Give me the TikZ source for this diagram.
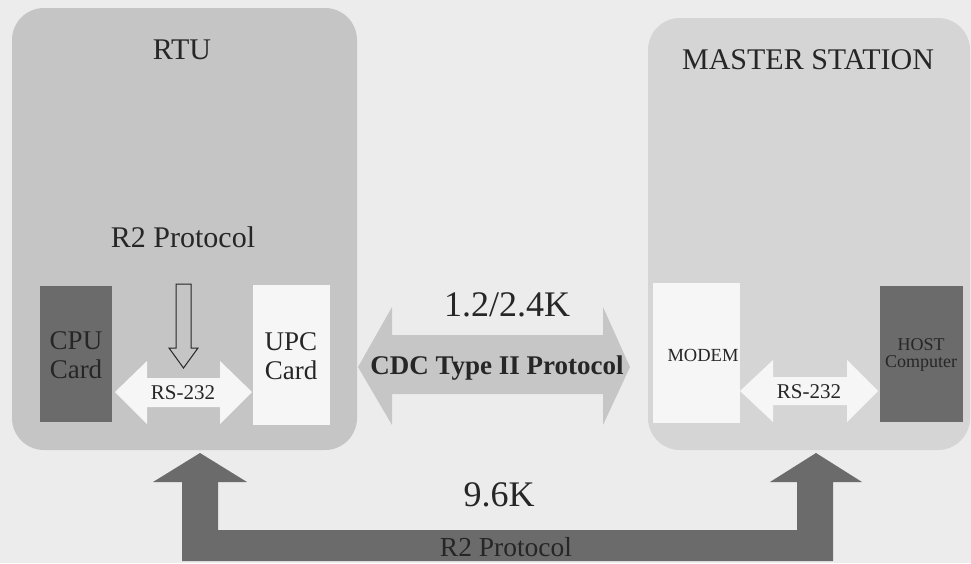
\documentclass[tikz,border=0pt]{standalone}
\usepackage{fontspec}
\setmainfont{Liberation Serif}
\definecolor{bgc}{HTML}{ECECEC}
\definecolor{rtuc}{HTML}{C5C5C5}
\definecolor{msc}{HTML}{D5D5D5}
\definecolor{darkc}{HTML}{6B6B6B}
\definecolor{cardc}{HTML}{F6F6F6}
\definecolor{txtc}{HTML}{262626}
\definecolor{cdcmid}{HTML}{999999}
\definecolor{cdcend}{HTML}{C6C6C6}
\begin{document}
\begin{tikzpicture}[x=1pt,y=-1pt,
  panel/.style={rounded corners=32pt, inner sep=0pt, outer sep=0pt},
  card/.style={inner sep=0pt, outer sep=0pt, align=center, text=txtc},
  lbl/.style={inner sep=0pt, text=txtc, align=center},
  fs/.style={font=\fontsize{#1}{#1}\selectfont}
]
\useasboundingbox (0,0) rectangle (971,563);
\fill[bgc] (0,0) rectangle (971,563);

% panels
\node[panel, fill=rtuc, minimum width=345, minimum height=442] (rtu) at (184.5,229) {};
\node[panel, fill=msc, minimum width=322, minimum height=432] (ms) at (809,234) {};

% cards
\node[card, fill=darkc, minimum width=72, minimum height=136] (cpu) at (76,354) {};
\node[lbl, fs=27] at (76,355) {CPU\\[2pt]Card};
\node[card, fill=cardc, minimum width=77, minimum height=140] (upc) at (291.5,355) {};
\node[lbl, fs=27] at (291,356) {UPC\\[2pt]Card};
\node[card, fill=cardc, minimum width=87, minimum height=140] (modem) at (696.5,353) {};
\node[lbl, fs=18.5] at (703,355) {MODEM};
\node[card, fill=darkc, minimum width=83, minimum height=136] (host) at (921.5,354) {};
\node[lbl, fs=18] at (921,355) {HOST\\[-1pt]Computer};

% titles
\node[lbl, fs=30] (rtut) at (182,50) {RTU};
\node[lbl, fs=30] (r2p) at (183,237) {R2 Protocol};
\node[lbl, fs=30] (mst) at (808,60) {MASTER STATION};

% hollow down arrow
\draw[txtc, line width=1pt, line join=miter]
  (176,284) -- (191,284) -- (191,348) -- (198,348) -- (183.5,368)
  -- (169,348) -- (176,348) -- cycle;

% RS-232 arrows (white)
\fill[cardc] (115,392) -- (147,361) -- (147,378) -- (220,378) -- (220,361)
  -- (252,392) -- (220,424) -- (220,407) -- (147,407) -- (147,424) -- cycle;
\node[lbl, fs=21] (rs1) at (183,393) {RS-232};
\fill[cardc] (740,391) -- (773,360) -- (773,377) -- (847,377) -- (847,360)
  -- (878,391) -- (847,422) -- (847,405) -- (773,405) -- (773,422) -- cycle;
\node[lbl, fs=21] (rs2) at (809,392) {RS-232};

% CDC arrow
\shade[left color=cdcend, middle color=cdcmid, right color=cdcend]
  (358,367) -- (392,307) -- (392,335) -- (603,335) -- (603,307)
  -- (630,367) -- (603,425) -- (603,394) -- (392,394) -- (392,425) -- cycle;
\node[lbl, fs=36] (rate1) at (507,305) {1.2/2.4K};
\node[lbl, font=\fontsize{27}{27}\selectfont\bfseries] (cdc) at (497,368) {CDC Type II Protocol};

% bottom U arrow
\fill[darkc] (200,453) -- (247,482) -- (218,482) -- (218,530) -- (797,530)
  -- (797,482) -- (770,482) -- (816,453) -- (862,482) -- (833,482)
  -- (833,561) -- (182,561) -- (182,482) -- (153,482) -- cycle;
\node[lbl, fs=36] (rate2) at (499,495) {9.6K};
\node[lbl, fs=27.5] (r2b) at (506,547) {R2 Protocol};
\end{tikzpicture}
\end{document}
